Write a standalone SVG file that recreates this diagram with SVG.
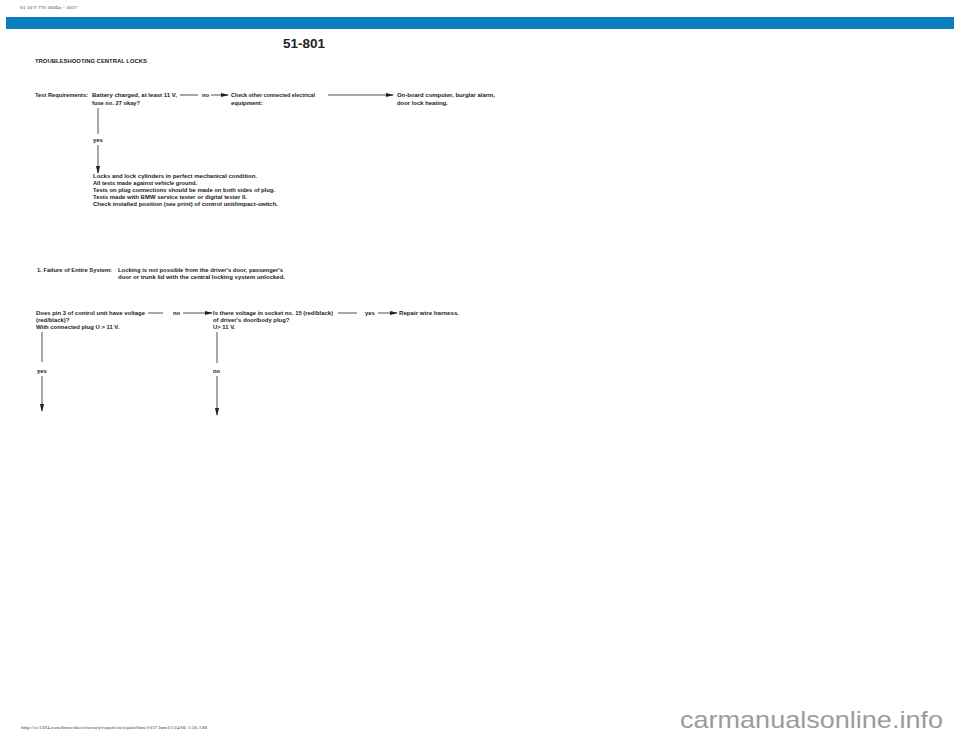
<svg xmlns="http://www.w3.org/2000/svg" width="960" height="742" viewBox="0 0 960 742">
<defs>
<style>
.t{font-family:"Liberation Sans",Arial,sans-serif;font-size:5.9px;font-weight:bold;fill:#222}
.tiny{font-family:"Liberation Serif","Times New Roman",serif;font-size:5px;fill:#444}
.ln{stroke:#222;stroke-width:0.8;fill:none}
</style>
<marker id="ah" markerWidth="8" markerHeight="6" refX="7" refY="3" orient="auto" markerUnits="userSpaceOnUse">
<path d="M0,0.9 L8,3 L0,5.1 Z" fill="#222"/>
</marker>
</defs>
<rect width="960" height="742" fill="#fff"/>
<text class="tiny" x="20" y="9" textLength="57" lengthAdjust="spacingAndGlyphs">01 50 9 770 560De - 1037</text>
<rect x="6" y="17" width="948" height="12" fill="#0b7fbe"/>
<text x="283" y="48" font-family="Liberation Sans,Arial,sans-serif" font-size="13.5" font-weight="bold" fill="#222" textLength="42" lengthAdjust="spacingAndGlyphs">51-801</text>
<text class="t" x="35" y="63" font-size="5.4" textLength="112" lengthAdjust="spacingAndGlyphs">TROUBLESHOOTING CENTRAL LOCKS</text>

<g id="connectors">
<line class="ln" x1="180" y1="95" x2="198" y2="95"/>
<line class="ln" x1="211" y1="95" x2="228" y2="95" marker-end="url(#ah)"/>
<line class="ln" x1="328" y1="95" x2="393" y2="95" marker-end="url(#ah)"/>
<line class="ln" x1="98" y1="108" x2="98" y2="134"/>
<line class="ln" x1="98" y1="145" x2="98" y2="173" marker-end="url(#ah)"/>
<line class="ln" x1="148" y1="313" x2="163" y2="313"/>
<line class="ln" x1="183" y1="313" x2="212" y2="313" marker-end="url(#ah)"/>
<line class="ln" x1="338" y1="313" x2="357" y2="313"/>
<line class="ln" x1="378" y1="313" x2="397" y2="313" marker-end="url(#ah)"/>
<line class="ln" x1="42" y1="332" x2="42" y2="362"/>
<line class="ln" x1="42" y1="376" x2="42" y2="411" marker-end="url(#ah)"/>
<line class="ln" x1="217" y1="332" x2="217" y2="363"/>
<line class="ln" x1="217" y1="376" x2="217" y2="415" marker-end="url(#ah)"/>
</g>

<g id="n-test">
<text class="t" x="35" y="97" textLength="53" lengthAdjust="spacingAndGlyphs">Test Requirements:</text>
<text class="t" x="92" y="97" textLength="85" lengthAdjust="spacingAndGlyphs">Battery charged, at least 11 V,</text>
<text class="t" x="92" y="104.5" textLength="48" lengthAdjust="spacingAndGlyphs">fuse no. 27 okay?</text>
</g>
<g id="l-no1"><text class="t" x="202" y="97">no</text></g>
<g id="n-check">
<text class="t" x="231" y="97" textLength="84" lengthAdjust="spacingAndGlyphs">Check other connected electrical</text>
<text class="t" x="231" y="104.5">equipment:</text>
</g>
<g id="n-onboard">
<text class="t" x="397" y="97" textLength="98" lengthAdjust="spacingAndGlyphs">On-board computer, burglar alarm,</text>
<text class="t" x="397" y="104.5">door lock heating.</text>
</g>
<g id="l-yes1"><text class="t" x="93" y="142">yes</text></g>
<g id="n-locks">
<text class="t" x="93" y="178" textLength="164" lengthAdjust="spacingAndGlyphs">Locks and lock cylinders in perfect mechanical condition.</text>
<text class="t" x="93" y="185" textLength="104" lengthAdjust="spacingAndGlyphs">All tests made against vehicle ground.</text>
<text class="t" x="93" y="192" textLength="182" lengthAdjust="spacingAndGlyphs">Tests on plug connections should be made on both sides of plug.</text>
<text class="t" x="93" y="199" textLength="154" lengthAdjust="spacingAndGlyphs">Tests made with BMW service tester or digital tester II.</text>
<text class="t" x="93" y="206" textLength="185" lengthAdjust="spacingAndGlyphs">Check installed position (see print) of control unit/impact-switch.</text>
</g>
<g id="n-failure">
<text class="t" x="37" y="272" textLength="75" lengthAdjust="spacingAndGlyphs">1. Failure of Entire System:</text>
<text class="t" x="118" y="272" textLength="165" lengthAdjust="spacingAndGlyphs">Locking is not possible from the driver's door, passenger's</text>
<text class="t" x="118" y="279" textLength="167" lengthAdjust="spacingAndGlyphs">door or trunk lid with the central locking system unlocked.</text>
</g>
<g id="n-pin3">
<text class="t" x="36" y="315" textLength="109" lengthAdjust="spacingAndGlyphs">Does pin 3 of control unit have voltage</text>
<text class="t" x="36" y="322">(red/black)?</text>
<text class="t" x="36" y="329">With connected plug U &gt; 11 V.</text>
</g>
<g id="l-no2"><text class="t" x="173" y="315">no</text></g>
<g id="n-socket">
<text class="t" x="213" y="315" textLength="120" lengthAdjust="spacingAndGlyphs">Is there voltage in socket no. 15 (red/black)</text>
<text class="t" x="213" y="322">of driver's door/body plug?</text>
<text class="t" x="213" y="329">U&gt; 11 V.</text>
</g>
<g id="l-yes2"><text class="t" x="365" y="315">yes</text></g>
<g id="n-repair"><text class="t" x="399" y="315" textLength="60" lengthAdjust="spacingAndGlyphs">Repair wire harness.</text></g>
<g id="l-yes3"><text class="t" x="37" y="373">yes</text></g>
<g id="l-no3"><text class="t" x="213" y="373">no</text></g>

<text class="tiny" x="21" y="729" textLength="186" lengthAdjust="spacingAndGlyphs">http://ee1394.com/bmw/docs/factory/repair/en/repair/htm/1037.htm11/24/06 1:56 AM</text>
<text x="680" y="728" font-family="Liberation Sans,Arial,sans-serif" font-size="24" fill="#9b9b9b" textLength="263" lengthAdjust="spacingAndGlyphs">carmanualsonline.info</text>
</svg>
